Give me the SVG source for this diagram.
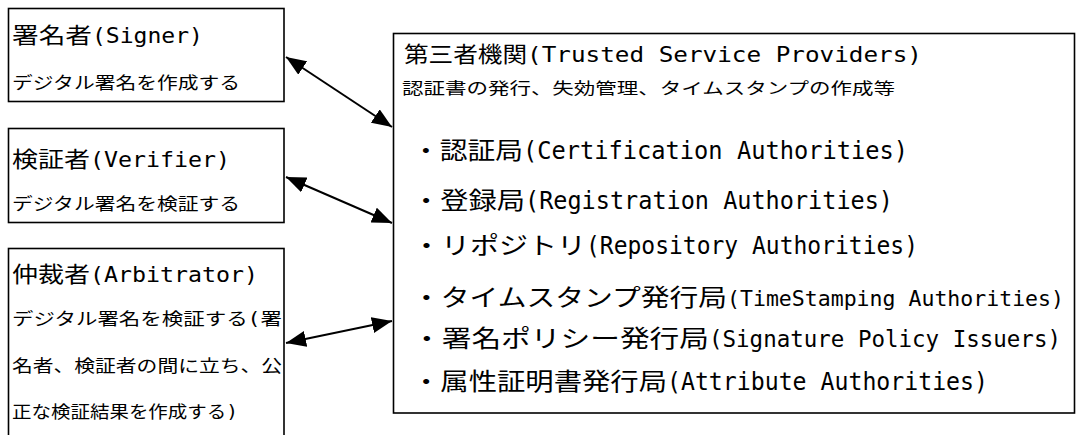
<svg xmlns="http://www.w3.org/2000/svg" width="1078" height="435" viewBox="0 0 1078 435">
<defs>
<style>
.box{fill:#fff;stroke:#000;stroke-width:1.6}
text{font-family:"DejaVu Sans Mono","Noto Sans CJK JP",monospace;fill:#000}
.t{font-size:22px}
.s{font-size:17px}
.ts{font-size:16px}
.b{font-size:24px}
.c{stroke:#000;stroke-width:2;fill:none;marker-start:url(#ah);marker-end:url(#ah)}
</style>
<marker id="ah" markerUnits="userSpaceOnUse" markerWidth="20" markerHeight="16" viewBox="0 0 20 16" refX="20" refY="8" orient="auto-start-reverse">
<path d="M0,0 L20,8 L0,16 z" fill="#000"/>
</marker>
</defs>
<rect width="1078" height="435" fill="#fff"/>
<g id="signer">
<rect class="box" x="8.5" y="8.5" width="275.5" height="93"/>
<text class="t" y="43"><tspan x="12" textLength="80" lengthAdjust="spacingAndGlyphs">署名者</tspan><tspan x="92" textLength="111" lengthAdjust="spacingAndGlyphs">(Signer)</tspan></text>
<text class="s" x="12" y="89" textLength="228" lengthAdjust="spacingAndGlyphs">デジタル署名を作成する</text>
</g>
<g id="verifier">
<rect class="box" x="8.5" y="128.5" width="275.5" height="94"/>
<text class="t" y="167"><tspan x="12" textLength="78" lengthAdjust="spacingAndGlyphs">検証者</tspan><tspan x="90" textLength="140" lengthAdjust="spacingAndGlyphs">(Verifier)</tspan></text>
<text class="s" x="12" y="210" textLength="228" lengthAdjust="spacingAndGlyphs">デジタル署名を検証する</text>
</g>
<g id="arbitrator">
<rect class="box" x="8.5" y="248.5" width="275.5" height="200"/>
<text class="t" y="282"><tspan x="12" textLength="78" lengthAdjust="spacingAndGlyphs">仲裁者</tspan><tspan x="90" textLength="168" lengthAdjust="spacingAndGlyphs">(Arbitrator)</tspan></text>
<text class="s" x="12" y="325" textLength="270" lengthAdjust="spacingAndGlyphs">デジタル署名を検証する(署</text>
<text class="s" x="12" y="372" textLength="270" lengthAdjust="spacingAndGlyphs">名者、検証者の間に立ち、公</text>
<text class="s" x="12" y="418" textLength="226" lengthAdjust="spacingAndGlyphs">正な検証結果を作成する)</text>
</g>
<g id="tsp">
<rect class="box" x="393.5" y="33.5" width="681" height="379.5"/>
<text class="t" y="62"><tspan x="404" textLength="123" lengthAdjust="spacingAndGlyphs">第三者機関</tspan><tspan x="527" textLength="395" lengthAdjust="spacingAndGlyphs">(Trusted Service Providers)</tspan></text>
<text class="ts" x="402" y="94" textLength="493" lengthAdjust="spacingAndGlyphs">認証書の発行、失効管理、タイムスタンプの作成等</text>
<text class="b" y="159"><tspan x="412" textLength="111" lengthAdjust="spacingAndGlyphs">・認証局</tspan><tspan x="523" textLength="385" lengthAdjust="spacingAndGlyphs">(Certification Authorities)</tspan></text>
<text class="b" y="209"><tspan x="412" textLength="113" lengthAdjust="spacingAndGlyphs">・登録局</tspan><tspan x="525" textLength="368" lengthAdjust="spacingAndGlyphs">(Registration Authorities)</tspan></text>
<text class="b" y="254"><tspan x="412" textLength="174" lengthAdjust="spacingAndGlyphs">・リポジトリ</tspan><tspan x="586" textLength="332" lengthAdjust="spacingAndGlyphs">(Repository Authorities)</tspan></text>
<text class="b" y="306"><tspan x="412" textLength="315" lengthAdjust="spacingAndGlyphs">・タイムスタンプ発行局</tspan><tspan x="727" textLength="337" lengthAdjust="spacingAndGlyphs" font-size="21.5">(TimeStamping Authorities)</tspan></text>
<text class="b" y="347"><tspan x="412" textLength="297" lengthAdjust="spacingAndGlyphs">・署名ポリシー発行局</tspan><tspan x="709" textLength="352" lengthAdjust="spacingAndGlyphs" font-size="22.4">(Signature Policy Issuers)</tspan></text>
<text class="b" y="390"><tspan x="412" textLength="255" lengthAdjust="spacingAndGlyphs">・属性証明書発行局</tspan><tspan x="667" textLength="321" lengthAdjust="spacingAndGlyphs">(Attribute Authorities)</tspan></text>
</g>
<g id="connectors">
<line class="c" x1="286" y1="57" x2="392" y2="127"/>
<line class="c" x1="286" y1="177" x2="392" y2="223"/>
<line class="c" x1="286" y1="343" x2="392" y2="321"/>
</g>
</svg>
